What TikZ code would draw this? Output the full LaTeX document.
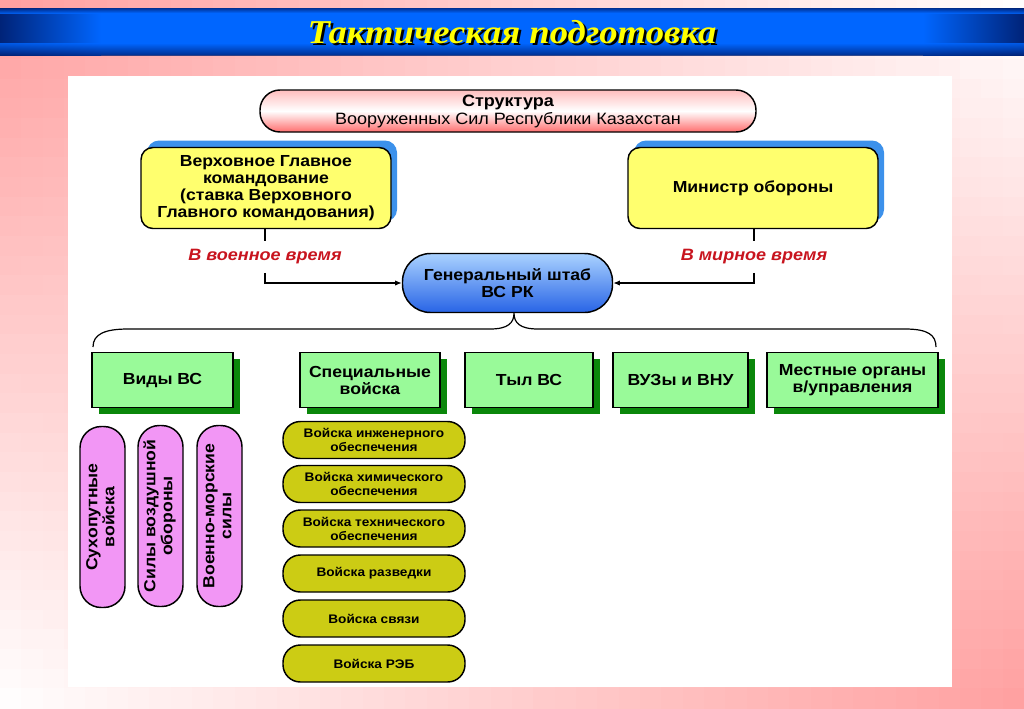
\documentclass[tikz,border=0pt]{standalone}
\usepackage{fontspec}
\setmainfont[FakeStretch=1.1]{Liberation Sans}
\newfontfamily\titlefont[FakeStretch=1.1]{Liberation Serif}
\usetikzlibrary{arrows.meta,shadows}
\definecolor{bgpink}{RGB}{255,158,158}
\definecolor{bannerblue}{RGB}{0,102,255}
\definecolor{bannernavy}{RGB}{0,35,120}
\definecolor{ttlyellow}{RGB}{255,255,0}
\definecolor{boxyellow}{RGB}{255,255,110}
\definecolor{shblue}{RGB}{60,145,235}
\definecolor{boxgreen}{RGB}{153,250,153}
\definecolor{shgreen}{RGB}{10,135,10}
\definecolor{capspink}{RGB}{242,150,245}
\definecolor{olivebox}{RGB}{204,204,20}
\definecolor{labred}{RGB}{200,20,30}
\definecolor{genlight}{RGB}{170,210,255}
\definecolor{gendark}{RGB}{40,100,230}
\definecolor{strred}{RGB}{255,110,110}
\definecolor{strtop}{RGB}{255,190,190}
\tikzset{
  bodyfont/.style={font=\fontsize{12}{12.75}\selectfont\bfseries},
  yellowbox/.style={draw=black, line width=1.1pt, fill=boxyellow, rounded corners=9pt,
    align=center, bodyfont, inner sep=0pt,
    minimum width=250*0.75pt, minimum height=81*0.75pt,
    general shadow={fill=shblue, shadow xshift=4.5pt, shadow yshift=5.25pt}},
  greenbox/.style={draw=black, line width=1.1pt, fill=boxgreen, align=center, bodyfont,
    inner sep=0pt, minimum height=55*0.75pt,
    general shadow={fill=shgreen, shadow xshift=5.25pt, shadow yshift=-4.5pt}},
  pinkcaps/.style={draw=black, line width=1.1pt, fill=capspink, rounded corners=16pt,
    inner sep=0pt, minimum width=45*0.75pt, minimum height=181*0.75pt,
    font=\fontsize{12}{12.75}\selectfont\bfseries},
  olivecaps/.style={draw=black, line width=1.1pt, fill=olivebox, rounded corners=13pt,
    inner sep=0pt, minimum width=182*0.75pt, minimum height=37*0.75pt, align=center,
    font=\fontsize{9.3}{10.5}\selectfont\bfseries},
  redlabel/.style={text=labred, font=\fontsize{12.3}{13}\selectfont\bfseries\itshape,
    inner sep=0pt, minimum height=31*0.75pt},
  conn/.style={line width=0.9pt, -{Latex[length=5pt,width=4pt]}},
  plainline/.style={line width=0.9pt},
  titletext/.style={font=\titlefont\bfseries\itshape\fontsize{25}{28}\selectfont, inner sep=0pt}
}
\begin{document}
\begin{tikzpicture}[x=0.75pt,y=-0.75pt]
\useasboundingbox (0,0) rectangle (1024,708);
% background (bilinear pink/white grid)
\foreach \r in {0,...,35}{
  \foreach \c in {0,...,47}{
    \pgfmathtruncatemacro\pk{100*((1-(\c+0.5)/48)*(1-(\r+0.5)/36)+((\c+0.5)/48)*((\r+0.5)/36))}
    \pgfmathsetmacro\xa{\c*(1024/48)}
    \pgfmathsetmacro\xb{(\c+1)*(1024/48)+1}
    \pgfmathsetmacro\ya{\r*(708/36)}
    \pgfmathsetmacro\yb{(\r+1)*(708/36)+1}
    \fill[bgpink!\pk!white] (\xa,\ya) rectangle (\xb,\yb);
  }
}
% banner
\fill[bannerblue] (100,8) rectangle (924,55);
\shade[left color=bannernavy, right color=bannerblue] (0,8) rectangle (101,55);
\shade[left color=bannerblue, right color=bannernavy] (923,8) rectangle (1024,55);
\shade[top color=bannernavy, bottom color=bannerblue, opacity=0.8] (0,8) rectangle (1024,13);
\shade[top color=bannerblue, bottom color=bannernavy, opacity=0.8] (0,43) rectangle (1024,55);
\node[titletext, text=black] (titleshadow) at (514.5,34.5) {Тактическая подготовка};
\node[titletext, text=ttlyellow] (title) at (512,32.5) {Тактическая подготовка};
% panel
\fill[white] (68,76) rectangle (952,687);

% structure
\node[draw=black, line width=1.1pt, rounded corners=15pt, top color=strtop, bottom color=strred, middle color=white,
  minimum width=496*0.75pt, minimum height=42*0.75pt, inner sep=0pt, align=center,
  font=\fontsize{12.3}{13.5}\selectfont] (str) at (508,111)
  {\textbf{Структура}\\Вооруженных Сил Республики Казахстан};

\node[yellowbox] (verh) at (266,188) {Верховное Главное\\командование\\(ставка Верховного\\Главного командования)};
\node[yellowbox] (mino) at (753,188) {Министр обороны};

\node[draw=black, line width=1.1pt, rounded corners=21pt, top color=genlight, bottom color=gendark,
  minimum width=210*0.75pt, minimum height=59*0.75pt, inner sep=0pt, align=center, bodyfont]
  (gen) at (507.5,283) {Генеральный штаб\\ВС РК};

\node[redlabel] (war) at (265,257) {В военное время};
\node[redlabel] (peace) at (754,257) {В мирное время};
\draw[plainline] (verh.south -| war.north) -- (war.north);
\draw[conn] (war.south) |- (gen.west);
\draw[plainline] (mino.south -| peace.north) -- (peace.north);
\draw[conn] (peace.south) |- (gen.east);

% brace
\coordinate (bl) at (93,347);
\coordinate (br) at (936,347);
\coordinate (tip) at (514,313);
\draw[plainline] (bl) .. controls (93,334) and (105,329) .. (128,329) -- (490,329)
  .. controls (508,329) and (514,323) .. (tip)
  .. controls (514,323) and (520,329) .. (538,329) -- (905,329)
  .. controls (928,329) and (936,335) .. (br);

% green boxes
\node[greenbox, minimum width=141*0.75pt] (vidy) at (162.5,380) {Виды ВС};
\node[greenbox, minimum width=140*0.75pt] (spec) at (370,380) {Специальные\\войска};
\node[greenbox, minimum width=128*0.75pt] (tyl) at (529,380) {Тыл ВС};
\node[greenbox, minimum width=135*0.75pt] (vuz) at (680.5,380) {ВУЗы и ВНУ};
\node[greenbox, minimum width=171*0.75pt] (mest) at (852.5,380) {Местные органы\\в/управления};

% pink capsules
\node[pinkcaps] (sukh) at (102.5,517) {\rotatebox{90}{\begin{tabular}{@{}c@{}}Сухопутные\\войска\end{tabular}}};
\node[pinkcaps] (pvo) at (160.5,516) {\rotatebox{90}{\begin{tabular}{@{}c@{}}Силы воздушной\\обороны\end{tabular}}};
\node[pinkcaps] (vmf) at (219.5,516) {\rotatebox{90}{\begin{tabular}{@{}c@{}}Военно-морские\\силы\end{tabular}}};

% olive capsules
\node[olivecaps] (o1) at (374,440) {Войска инженерного\\обеспечения};
\node[olivecaps] (o2) at (374,484) {Войска химического\\обеспечения};
\node[olivecaps] (o3) at (374,528.5) {Войска технического\\обеспечения};
\node[olivecaps] (o4) at (374,573.5) {Войска разведки};
\node[olivecaps] (o5) at (374,618.5) {Войска связи};
\node[olivecaps] (o6) at (374,663.5) {Войска РЭБ};
\end{tikzpicture}
\end{document}
